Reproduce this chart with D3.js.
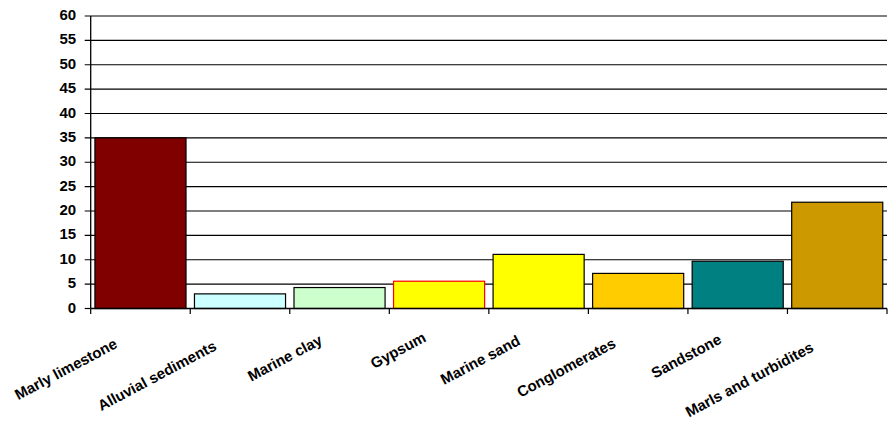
<!DOCTYPE html>
<html>
<head>
<meta charset="utf-8">
<script src="https://cdn.jsdelivr.net/npm/d3@7"></script>
<style>
  html, body { margin: 0; padding: 0; background: #fff; }
  svg { display: block; font-family: "Liberation Sans", Arial, sans-serif; }
</style>
</head>
<body>
<div id="chart"></div>
<script>
// données
const categories = ['Marly limestone', 'Alluvial sediments', 'Marine clay', 'Gypsum',
                    'Marine sand', 'Conglomerates', 'Sandstone', 'Marls and turbidites'];
const values = [35, 3, 4.3, 5.6, 11.1, 7.2, 9.7, 21.8];
const fills = ['#800000', '#CCFFFF', '#CCFFCC', '#FFFF00', '#FFFF00', '#FFCC00', '#008080', '#CC9900'];
const strokes = ['#000', '#000', '#000', '#FF0000', '#000', '#000', '#000', '#000'];
const yTicks = d3.range(0, 61, 5);

const width = 889, height = 421;
const margin = { top: 16, right: 2, bottom: 112.5, left: 90.7 };
const innerW = width - margin.left - margin.right;
const innerH = height - margin.top - margin.bottom;

const svg = d3.select('#chart').append('svg')
    .attr('width', width)
    .attr('height', height);

const g = svg.append('g')
    .attr('transform', `translate(${margin.left},${margin.top})`);

const x = d3.scaleBand()
    .domain(categories)
    .range([0, innerW])
    .paddingInner(0.085)
    .paddingOuter(0.0425);

const y = d3.scaleLinear()
    .domain([0, 60])
    .range([innerH, 0]);

// lignes de grille
g.append('g')
    .selectAll('line')
    .data(yTicks.filter(d => d > 0))
    .join('line')
    .attr('x1', -6)
    .attr('x2', innerW)
    .attr('y1', d => y(d))
    .attr('y2', d => y(d))
    .attr('stroke', '#000')
    .attr('stroke-width', 1.2);

// barres
g.append('g')
    .selectAll('rect')
    .data(values)
    .join('rect')
    .attr('x', (d, i) => x(categories[i]))
    .attr('y', d => y(d))
    .attr('width', x.bandwidth())
    .attr('height', d => innerH - y(d))
    .attr('fill', (d, i) => fills[i])
    .attr('stroke', (d, i) => strokes[i])
    .attr('stroke-width', 1.2);

// axe Y
const yAxis = g.append('g');
yAxis.append('line')
    .attr('x1', 0).attr('x2', 0)
    .attr('y1', 0).attr('y2', innerH)
    .attr('stroke', '#000')
    .attr('stroke-width', 1.3);
yAxis.append('line')
    .attr('x1', -6).attr('x2', 0)
    .attr('y1', innerH).attr('y2', innerH)
    .attr('stroke', '#000')
    .attr('stroke-width', 1.2);
yAxis.selectAll('text')
    .data(yTicks)
    .join('text')
    .attr('x', -14.5)
    .attr('y', d => y(d))
    .attr('dy', '0.27em')
    .attr('text-anchor', 'end')
    .attr('font-size', 15)
    .attr('font-weight', 'bold')
    .text(d => d);

// axe X
const step = x.step();
const xAxis = g.append('g').attr('transform', `translate(0,${innerH})`);
xAxis.append('line')
    .attr('x1', 0).attr('x2', innerW)
    .attr('stroke', '#000')
    .attr('stroke-width', 1.3);
xAxis.selectAll('line.tick')
    .data(d3.range(categories.length + 1))
    .join('line')
    .attr('class', 'tick')
    .attr('x1', i => i * step)
    .attr('x2', i => i * step)
    .attr('y1', 0)
    .attr('y2', 5.5)
    .attr('stroke', '#000')
    .attr('stroke-width', 1.2);

const labels = xAxis.selectAll('text')
    .data(categories)
    .join('text')
    .attr('text-anchor', 'end')
    .attr('font-size', 15)
    .attr('font-weight', 'bold')
    .text(d => d);

// position des étiquettes inclinées selon leur longueur
labels.attr('transform', function(d) {
    const L = this.getComputedTextLength();
    const cx = x(d) + x.bandwidth() / 2;
    const ex = cx + Math.max(-22.5, -0.6 - 0.19 * L);
    const ey = 25 + 0.12 * L;
    return `translate(${ex},${ey}) rotate(-28)`;
});
</script>
</body>
</html>
